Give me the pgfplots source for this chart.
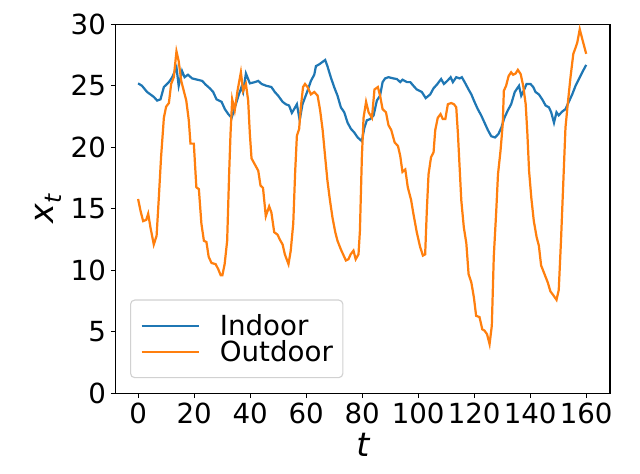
\documentclass[border=0pt]{standalone}
\usepackage{fontspec}
\setmainfont{DejaVu Sans}
\usepackage{pgfplots}
\pgfplotsset{compat=1.18}
\definecolor{tabblue}{HTML}{1F77B4}
\definecolor{taborange}{HTML}{FF7F0E}
\begin{document}
\begin{tikzpicture}
\useasboundingbox (-83.3bp,-57.4bp) rectangle (377.5bp,283.2bp);
\begin{axis}[
  at={(0,0)}, anchor=south west,
  scale only axis, width=355.9bp, height=265.7bp,
  xmin=-8, xmax=168.5, ymin=0, ymax=30,
  xtick={0,20,...,160}, ytick={0,5,...,30},
  xtick pos=bottom, ytick pos=left,
  tick align=outside, major tick length=3.5bp,
  axis line style={line width=0.8bp},
  every tick/.style={line width=0.8bp, black},
  tick label style={font=\fontsize{20}{24}\selectfont},
  /pgf/number format/assume math mode=true,
  xlabel={\itshape t}, ylabel={\itshape x\raisebox{-0.22em}{\fontsize{16.8}{18}\selectfont\itshape t}},
  label style={font=\fontsize{24}{28}\selectfont},
  legend style={
    at={(0.029,0.041)}, anchor=south west,
    draw=black!18, line width=0.8bp, rounded corners=3bp,
    fill=white, fill opacity=0.8, text opacity=1, draw opacity=1,
    font=\fontsize{20}{24}\selectfont,
    inner xsep=7.2bp, inner ysep=10.3bp,
    row sep=2bp, column sep=14.5bp,
    nodes={inner sep=0pt},
  },
  legend cell align=left,
  legend image code/.code={\draw[#1] (0bp,0bp) -- (41bp,0bp);},
]
\addplot[tabblue, line width=1.6bp] coordinates {
(0,25.2) (1.4,25.0) (3.2,24.5) (4.4,24.3) (5.6,24.1) (6.8,23.8) (8.0,23.9) (9.2,24.9) (11.0,25.3) (12.2,25.7) (13.7,26.5) (14.5,25.0) (15.7,26.2) (16.6,25.7) (17.8,25.9) (19.3,25.6) (21.1,25.5) (22.9,25.4) (24.1,25.1) (25.6,24.8) (26.8,24.5) (28.0,23.9) (29.8,23.7) (31.0,23.1) (32.2,22.7) (33.4,22.4) (34.5,23.2) (35.7,24.1) (36.9,24.9) (37.5,24.5) (38.5,26.0) (39.9,25.2) (41.7,25.3) (42.9,25.4) (44.1,25.15) (45.8,25.0) (47.6,24.9) (48.8,24.5) (50.0,24.2) (51.6,23.7) (52.75,23.5) (53.9,23.4) (54.9,22.8) (55.7,23.1) (56.7,23.5) (57.7,22.2) (58.7,23.5) (60.5,24.6) (61.7,25.4) (62.9,25.9) (63.5,26.6) (64.7,26.75) (65.9,26.95) (66.8,27.1) (67.6,26.6) (68.8,25.7) (70.0,24.9) (71.2,24.2) (72.4,23.25) (73.6,22.85) (74.8,22.0) (76.0,21.5) (77.2,21.2) (78.4,20.8) (79.9,20.5) (80.8,21.6) (81.7,22.2) (82.9,22.3) (84.1,22.6) (85.25,23.8) (86.4,24.2) (87.3,25.3) (88.2,25.6) (89.4,25.7) (91.2,25.6) (92.4,25.55) (93.6,25.3) (94.4,25.5) (96.0,25.3) (97.2,25.3) (98.3,25.0) (99.5,24.7) (101.3,24.5) (102.7,24.0) (104.3,24.3) (105.5,24.8) (106.7,25.1) (108.2,25.55) (109.2,25.15) (110.4,25.4) (111.6,25.7) (112.4,25.3) (113.6,25.7) (114.8,25.6) (115.6,25.7) (116.6,25.3) (118.0,24.7) (119.0,24.3) (120.1,23.7) (121.3,23.1) (122.5,22.6) (123.7,22.0) (124.9,21.4) (126.1,20.9) (127.5,20.8) (128.7,21.1) (129.7,21.6) (130.8,22.4) (132.0,23.0) (133.2,23.5) (134.5,24.5) (136.0,25.0) (136.8,24.2) (137.7,24.6) (138.7,25.15) (140.1,25.15) (141.1,24.9) (141.9,24.5) (143.1,24.3) (144.3,23.9) (145.5,23.4) (146.7,23.25) (147.5,22.85) (148.5,22.0) (149.4,22.85) (150.2,22.6) (151.4,22.9) (152.6,23.1) (153.8,23.7) (155.0,24.3) (156.2,25.0) (157.4,25.55) (158.6,26.1) (160,26.7)
};
\addlegendentry{Indoor}
\addplot[taborange, line width=1.6bp] coordinates {
(0,15.8) (0.85,14.85) (1.8,14.0) (2.9,14.1) (3.6,14.6) (4.4,13.5) (5.6,12.1) (6.6,12.8) (7.4,15.9) (8.2,19.2) (9.2,22.4) (10.0,23.3) (11.0,23.6) (11.8,25.15) (12.75,25.7) (13.7,27.8) (14.5,27.0) (15.4,25.4) (16.3,24.6) (17.2,23.8) (18.1,22.2) (18.7,20.3) (19.9,20.3) (20.8,16.75) (21.7,16.6) (22.6,13.8) (23.5,12.4) (24.4,12.3) (25.2,11.1) (26.2,10.6) (27.7,10.5) (28.6,10.1) (29.5,9.6) (30.1,9.6) (30.9,10.5) (31.8,12.4) (32.5,17.8) (33.0,21.1) (33.6,23.9) (34.5,23.0) (35.5,24.6) (36.7,26.1) (37.5,24.6) (38.5,25.15) (39.3,23.8) (39.9,21.1) (40.5,19.1) (41.7,18.6) (42.9,18.1) (43.7,16.9) (44.6,16.7) (45.6,14.4) (46.8,15.2) (47.6,14.7) (48.6,13.1) (49.8,12.9) (50.6,12.5) (51.6,12.1) (52.4,11.3) (53.7,10.5) (54.5,11.6) (55.4,13.8) (56.1,18.1) (56.7,20.95) (57.5,21.5) (58.1,23.25) (58.9,24.9) (59.6,25.15) (60.5,24.9) (61.7,24.3) (62.9,24.5) (64.1,24.2) (65.0,23.0) (65.9,21.4) (66.8,19.2) (67.6,17.3) (68.5,15.7) (69.4,14.3) (70.4,13.1) (71.2,12.4) (72.4,11.7) (73.2,11.3) (74.2,10.8) (75.1,10.9) (75.9,11.3) (76.9,11.6) (77.7,10.9) (78.7,11.3) (79.2,13.2) (79.9,19.2) (80.5,22.4) (81.4,23.7) (82.3,22.85) (83.5,22.4) (84.4,24.7) (85.6,24.9) (86.4,24.2) (87.3,23.1) (88.5,22.85) (89.4,21.8) (90.4,21.4) (91.6,20.4) (92.8,20.1) (93.6,19.3) (94.4,18.0) (95.4,18.2) (96.3,16.75) (97.5,15.7) (98.3,14.6) (99.5,13.1) (100.7,11.9) (101.7,11.2) (102.5,11.3) (103.1,14.9) (103.7,17.8) (104.6,19.2) (105.5,19.6) (106.1,21.4) (107.0,22.4) (108.0,22.7) (108.8,22.3) (109.7,22.3) (110.6,23.5) (111.8,23.6) (112.8,23.5) (113.6,23.25) (114.2,21.1) (114.8,18.4) (115.4,15.7) (116.3,13.5) (117.2,12.2) (118.0,9.7) (119.0,9.0) (119.9,7.8) (120.7,6.3) (121.9,6.2) (122.9,5.2) (123.7,5.1) (124.6,4.8) (125.5,4.0) (126.3,5.5) (127.0,11.1) (127.9,14.9) (128.5,17.8) (129.4,19.7) (130.2,21.9) (130.6,24.6) (131.4,25.0) (132.3,25.8) (133.2,26.1) (133.9,25.9) (134.8,26.0) (135.6,26.3) (136.6,25.96) (137.5,25.0) (138.4,23.5) (139.0,21.1) (139.6,18.1) (140.4,15.9) (141.3,14.0) (142.3,12.7) (143.1,12.0) (143.9,10.4) (145.1,9.7) (146.3,9.0) (147.2,8.3) (148.5,7.9) (149.4,7.6) (150.2,8.4) (151.0,12.4) (151.8,17.0) (152.6,21.6) (153.4,23.5) (154.4,25.7) (155.4,27.6) (156.2,28.1) (156.8,28.5) (157.7,29.6) (158.6,28.8) (160,27.6)
};
\addlegendentry{Outdoor}
\end{axis}
\end{tikzpicture}
\end{document}
